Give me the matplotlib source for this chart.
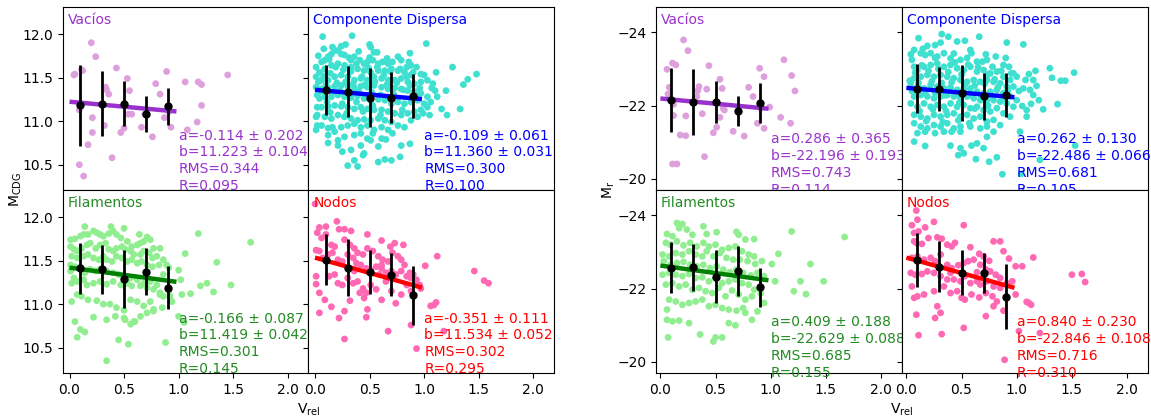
import numpy as np
import matplotlib
matplotlib.use("Agg")
import matplotlib.pyplot as plt

plt.rcParams["font.family"] = ["DejaVu Sans"]
plt.rcParams["font.size"] = 10

# ---------------------------------------------------------------------------
# Environments and styling
# ---------------------------------------------------------------------------
env_names = ["Vacíos", "Componente Dispersa", "Filamentos", "Nodos"]
point_colors = ["plum", "turquoise", "lightgreen", "hotpink"]
line_colors = ["darkorchid", "blue", "green", "red"]
text_colors = ["darkorchid", "blue", "forestgreen", "red"]

bin_centres = [0.1, 0.3, 0.5, 0.7, 0.9]
xticks = [0.0, 0.5, 1.0, 1.5, 2.0]

# ---------------------------------------------------------------------------
# Galaxy samples: (V_rel, M_CDG)
# ---------------------------------------------------------------------------
cdg_vacios = [
    (0.20, 11.90), (0.24, 11.74), (0.04, 11.53), (0.11, 11.59), (0.12, 11.58),
    (0.09, 11.13), (0.21, 11.04), (0.21, 10.87), (0.17, 10.73), (0.09, 10.50),
    (0.13, 10.37), (0.43, 11.61), (0.34, 11.36), (0.33, 11.39), (0.36, 11.31),
    (0.39, 10.58), (0.53, 11.49), (0.55, 11.35), (0.47, 10.87), (0.50, 10.92),
    (0.54, 11.08), (0.57, 11.08), (0.32, 10.95), (0.66, 10.93), (0.69, 11.08),
    (0.76, 10.82), (0.79, 11.43), (0.83, 11.31), (0.89, 11.57), (0.91, 11.11),
    (0.87, 11.04), (0.93, 10.93), (1.06, 11.45), (1.18, 11.45), (1.21, 11.42),
    (1.21, 11.18), (1.17, 10.99), (1.08, 10.90), (1.45, 11.53), (0.05, 11.54),
]

cdg_dispersa = [
    (0.07, 11.97), (0.34, 11.98), (0.16, 11.85), (0.28, 11.88), (0.50, 11.88),
    (0.51, 11.85), (0.54, 11.79), (0.57, 11.79), (0.87, 11.78), (1.02, 11.89),
    (1.26, 11.62), (1.48, 11.54), (1.40, 11.48), (1.36, 11.42), (1.33, 11.14),
    (1.21, 11.07), (1.11, 11.56), (1.07, 11.38), (1.16, 11.14), (1.05, 11.07),
    (0.79, 10.72), (0.87, 10.74), (0.78, 10.59), (0.64, 10.56), (0.70, 10.55),
    (0.58, 10.53), (0.30, 10.49), (0.39, 10.48), (0.25, 10.65), (0.21, 10.72),
    (0.12, 10.75), (0.12, 10.84), (0.01, 10.90), (0.02, 10.95), (0.16, 10.93),
    (0.33, 10.67), (0.42, 10.72), (0.45, 10.63), (0.51, 10.78), (0.61, 10.80),
    (0.65, 10.79), (0.71, 10.86), (0.53, 10.86), (0.01, 11.05), (0.02, 11.16),
    (0.04, 11.26), (0.01, 11.39), (0.01, 11.51), (0.01, 11.62), (0.06, 11.68),
    (0.09, 11.70), (0.12, 11.74), (0.15, 11.77), (0.18, 11.81), (0.21, 11.81),
    (0.24, 11.77), (0.27, 11.76), (0.33, 11.70), (0.36, 11.74), (0.41, 11.70),
    (0.45, 11.66), (0.48, 11.68), (0.53, 11.70), (0.58, 11.66), (0.62, 11.68),
    (0.67, 11.66), (0.71, 11.68), (0.76, 11.74), (0.79, 11.70), (0.84, 11.62),
    (0.88, 11.64), (0.93, 11.62), (0.97, 11.54), (1.00, 11.53), (0.88, 11.53),
    (0.82, 11.56), (0.76, 11.58), (0.70, 11.60), (0.64, 11.58), (0.58, 11.58),
    (0.51, 11.56), (0.45, 11.58), (0.39, 11.60), (0.33, 11.62), (0.27, 11.64),
    (0.21, 11.66), (0.15, 11.64), (0.09, 11.60), (0.04, 11.56), (0.06, 11.47),
    (0.12, 11.47), (0.18, 11.51), (0.24, 11.53), (0.30, 11.51), (0.36, 11.47),
    (0.42, 11.49), (0.48, 11.47), (0.54, 11.51), (0.61, 11.49), (0.67, 11.47),
    (0.73, 11.47), (0.79, 11.49), (0.85, 11.45), (0.91, 11.43), (0.97, 11.45),
    (1.03, 11.47), (1.08, 11.43), (1.10, 11.35), (1.03, 11.28), (0.97, 11.32),
    (0.91, 11.34), (0.85, 11.35), (0.79, 11.37), (0.73, 11.38), (0.67, 11.37),
    (0.61, 11.39), (0.54, 11.41), (0.48, 11.39), (0.42, 11.40), (0.36, 11.38),
    (0.30, 11.40), (0.24, 11.41), (0.18, 11.40), (0.12, 11.38), (0.06, 11.37),
    (0.02, 11.30), (0.09, 11.28), (0.15, 11.28), (0.21, 11.30), (0.27, 11.28),
    (0.33, 11.27), (0.39, 11.29), (0.45, 11.26), (0.51, 11.24), (0.58, 11.25),
    (0.64, 11.24), (0.70, 11.20), (0.76, 11.22), (0.82, 11.20), (0.88, 11.22),
    (0.94, 11.24), (1.00, 11.20), (1.03, 11.16), (0.97, 11.13), (0.91, 11.11),
    (0.85, 11.09), (0.79, 11.07), (0.73, 11.09), (0.67, 11.11), (0.61, 11.13),
    (0.54, 11.13), (0.48, 11.14), (0.42, 11.16), (0.36, 11.14), (0.30, 11.16),
    (0.24, 11.17), (0.18, 11.18), (0.12, 11.17), (0.06, 11.16), (0.02, 11.07),
    (0.09, 11.05), (0.15, 11.03), (0.21, 11.07), (0.27, 11.05), (0.33, 11.03),
    (0.39, 11.01), (0.45, 11.02), (0.51, 11.01), (0.58, 11.03), (0.64, 11.01),
    (0.70, 10.99), (0.76, 10.95), (0.82, 10.93), (0.88, 11.01), (0.94, 11.05),
    (0.06, 10.95), (0.12, 10.92), (0.18, 10.88), (0.24, 10.93), (0.30, 10.95),
    (0.36, 10.97), (0.42, 10.93), (0.48, 10.95), (0.54, 10.90), (0.61, 10.93),
    (0.67, 10.90), (0.21, 10.78), (0.27, 10.82), (0.36, 10.84), (0.42, 10.86),
    (0.48, 10.80), (0.58, 10.71), (0.44, 10.61), (0.36, 10.55),
    (0.03, 11.45), (0.05, 11.34), (0.08, 11.52), (0.10, 11.41), (0.14, 11.55),
    (0.16, 11.33), (0.19, 11.62), (0.20, 11.44), (0.23, 11.35), (0.26, 11.59),
    (0.28, 11.45), (0.31, 11.33), (0.33, 11.57), (0.35, 11.43), (0.38, 11.66),
    (0.40, 11.34), (0.43, 11.51), (0.46, 11.42), (0.49, 11.61), (0.52, 11.33),
    (0.55, 11.45), (0.57, 11.62), (0.60, 11.30), (0.63, 11.53), (0.66, 11.42),
    (0.69, 11.57), (0.72, 11.31), (0.75, 11.44), (0.78, 11.60), (0.81, 11.36),
    (0.84, 11.51), (0.87, 11.41), (0.90, 11.56), (0.93, 11.30), (0.96, 11.38),
    (0.11, 11.22), (0.25, 11.20), (0.38, 11.22), (0.53, 11.18), (0.68, 11.27),
    (0.80, 11.13), (0.14, 11.10), (0.29, 11.09), (0.44, 11.11), (0.60, 11.07),
    (0.03, 11.75), (0.13, 11.71), (0.31, 11.73), (0.50, 11.73), (0.66, 11.72),
    (0.08, 11.83), (0.24, 11.86), (0.40, 11.80), (0.86, 11.68), (1.12, 11.28),
    (1.20, 11.35), (0.99, 11.09), (1.06, 11.22),
]

cdg_filamentos = [
    (0.14, 11.89), (0.38, 11.89), (0.50, 11.87), (0.71, 11.77), (0.64, 11.80),
    (0.01, 11.74), (0.05, 11.75), (0.10, 11.78), (0.13, 11.80), (0.17, 11.80),
    (0.22, 11.84), (0.25, 11.82), (0.28, 11.80), (0.31, 11.78), (0.36, 11.81),
    (0.40, 11.84), (0.43, 11.80), (0.47, 11.76), (0.53, 11.72), (0.57, 11.66),
    (0.62, 11.68), (0.65, 11.70), (0.68, 11.72), (0.74, 11.74), (0.77, 11.64),
    (0.83, 11.64), (0.01, 11.66), (0.04, 11.63), (0.07, 11.61), (0.11, 11.64),
    (0.16, 11.68), (0.19, 11.70), (0.24, 11.64), (0.28, 11.68), (0.33, 11.70),
    (0.36, 11.63), (0.40, 11.61), (0.43, 11.64), (0.48, 11.66), (0.51, 11.63),
    (0.56, 11.61), (0.59, 11.57), (0.65, 11.57), (0.68, 11.61), (0.73, 11.59),
    (0.76, 11.53), (0.80, 11.55), (0.86, 11.51), (0.89, 11.45), (0.02, 11.55),
    (0.07, 11.53), (0.13, 11.55), (0.17, 11.57), (0.22, 11.53), (0.27, 11.51),
    (0.31, 11.55), (0.34, 11.51), (0.39, 11.49), (0.43, 11.55), (0.48, 11.53),
    (0.53, 11.49), (0.57, 11.51), (0.62, 11.47), (0.66, 11.49), (0.71, 11.45),
    (0.76, 11.43), (0.82, 11.45), (0.86, 11.34), (0.91, 11.42), (1.00, 11.39),
    (1.02, 11.28), (1.06, 11.58), (1.18, 11.81), (1.35, 11.48), (1.48, 11.22),
    (1.66, 11.71), (1.20, 11.21), (1.26, 11.24), (1.32, 11.14), (1.11, 11.12),
    (1.03, 11.11), (0.94, 11.03), (0.83, 11.11), (0.80, 11.22), (0.74, 11.26),
    (0.68, 11.24), (0.62, 11.28), (0.56, 11.30), (0.50, 11.32), (0.45, 11.34),
    (0.40, 11.36), (0.34, 11.38), (0.28, 11.40), (0.24, 11.38), (0.19, 11.40),
    (0.14, 11.36), (0.10, 11.42), (0.05, 11.43), (0.01, 11.45), (0.01, 11.38),
    (0.04, 11.30), (0.02, 11.24), (0.07, 11.26), (0.13, 11.28), (0.16, 11.22),
    (0.22, 11.24), (0.28, 11.26), (0.34, 11.23), (0.40, 11.26), (0.47, 11.22),
    (0.53, 11.24), (0.57, 11.21), (0.65, 11.21), (0.71, 11.19), (0.77, 11.17),
    (0.83, 11.13), (0.86, 11.09), (0.92, 11.09), (0.91, 11.15), (0.02, 11.03),
    (0.07, 11.11), (0.11, 11.09), (0.17, 11.05), (0.25, 11.04), (0.31, 11.00),
    (0.37, 11.00), (0.43, 10.96), (0.50, 10.93), (0.56, 11.05), (0.62, 11.03),
    (0.68, 10.98), (0.74, 11.03), (0.77, 10.94), (0.85, 10.96), (0.05, 10.80),
    (0.10, 10.71), (0.14, 10.68), (0.07, 10.62), (0.22, 10.85), (0.34, 10.82),
    (0.42, 10.86), (0.50, 10.84), (0.59, 10.80), (0.60, 10.80), (0.56, 10.77),
    (0.65, 10.86), (0.71, 10.90), (0.77, 10.92), (0.45, 10.59), (0.54, 10.54),
    (0.88, 10.56), (0.34, 10.35), (0.51, 10.82), (1.00, 10.86), (1.05, 10.79),
]

cdg_nodos = [
    (0.00, 12.15), (0.04, 11.88), (0.10, 11.89), (0.02, 11.82), (0.06, 11.76),
    (0.10, 11.80), (0.15, 11.68), (0.18, 11.66), (0.20, 11.95), (0.22, 11.86),
    (0.27, 11.86), (0.33, 11.84), (0.48, 11.80), (0.61, 11.73), (0.69, 11.66),
    (0.73, 11.70), (0.81, 11.68), (0.27, 11.74), (0.32, 11.68), (0.36, 11.64),
    (0.39, 11.59), (0.44, 11.57), (0.48, 11.64), (0.53, 11.61), (0.58, 11.55),
    (0.62, 11.51), (0.67, 11.49), (0.71, 11.59), (0.76, 11.55), (0.79, 11.51),
    (0.82, 11.45), (0.87, 11.36), (0.90, 11.34), (0.93, 11.28), (0.96, 11.22),
    (1.01, 11.44), (1.12, 11.55), (1.46, 11.38), (1.55, 11.27), (1.59, 11.24),
    (0.01, 11.62), (0.04, 11.61), (0.07, 11.53), (0.12, 11.57), (0.16, 11.59),
    (0.21, 11.51), (0.25, 11.49), (0.30, 11.57), (0.35, 11.53), (0.38, 11.47),
    (0.42, 11.45), (0.47, 11.41), (0.51, 11.39), (0.56, 11.43), (0.61, 11.41),
    (0.65, 11.36), (0.70, 11.38), (0.74, 11.34), (0.79, 11.38), (0.84, 11.32),
    (0.88, 11.30), (0.01, 11.32), (0.01, 11.23), (0.04, 11.13), (0.09, 11.05),
    (0.13, 11.32), (0.18, 11.34), (0.21, 11.24), (0.25, 11.22), (0.30, 11.30),
    (0.35, 11.24), (0.39, 11.26), (0.44, 11.18), (0.47, 11.13), (0.51, 11.22),
    (0.56, 11.17), (0.61, 11.05), (0.65, 11.26), (0.70, 11.15), (0.74, 11.01),
    (0.79, 11.11), (0.84, 11.22), (0.88, 11.15), (0.93, 11.22), (0.97, 11.18),
    (1.06, 10.98), (1.09, 10.99), (1.11, 11.02), (0.88, 10.76), (0.93, 10.49),
    (0.04, 10.90), (0.15, 10.97), (0.22, 10.84), (0.27, 10.92), (0.32, 11.04),
    (0.41, 11.13), (0.45, 11.07), (0.48, 10.94), (0.47, 10.85), (0.67, 10.69),
    (0.27, 10.60), (1.18, 10.69), (0.59, 11.34), (0.36, 11.38), (0.61, 11.45),
]

# ---------------------------------------------------------------------------
# Galaxy samples: (V_rel, M_r)
# ---------------------------------------------------------------------------
mr_vacios = [
    (0.21, -23.79), (0.25, -23.50), (0.06, -22.99), (0.11, -23.16), (0.14, -23.11),
    (0.08, -22.50), (0.07, -22.32), (0.12, -22.04), (0.12, -21.73), (0.23, -21.72),
    (0.18, -21.20), (0.23, -21.18), (0.11, -20.41), (0.15, -20.41), (0.40, -20.61),
    (0.44, -23.09), (0.35, -22.52), (0.34, -22.41), (0.33, -22.25), (0.38, -21.78),
    (0.42, -22.45), (0.54, -22.72), (0.56, -22.47), (0.54, -21.68), (0.48, -21.26),
    (0.51, -21.41), (0.57, -21.93), (0.58, -21.88), (0.66, -21.30), (0.76, -21.17),
    (0.80, -22.50), (0.84, -22.25), (0.90, -23.02), (0.94, -22.79), (0.88, -21.52),
    (0.94, -21.38), (1.12, -23.25), (1.19, -22.82), (1.22, -22.40), (1.09, -21.68),
    (1.18, -21.52), (0.99, -21.96), (0.91, -21.93),
]

mr_dispersa = [
    (0.11, -23.84), (0.32, -23.95), (0.38, -23.88), (0.46, -23.75), (0.53, -23.77),
    (0.66, -23.88), (0.91, -23.72), (1.06, -23.67), (0.19, -23.63), (0.26, -23.65),
    (0.31, -23.72), (0.58, -23.52), (0.59, -23.43), (0.81, -23.34), (0.73, -23.25),
    (0.07, -23.52), (0.13, -23.43), (0.17, -23.38), (0.22, -23.43), (0.28, -23.34),
    (0.34, -23.43), (0.40, -23.29), (0.49, -23.25), (0.64, -23.20), (0.69, -23.20),
    (0.78, -23.06), (0.88, -23.11), (0.93, -23.06), (0.97, -22.88), (1.00, -22.79),
    (1.08, -22.70), (1.11, -22.86), (1.15, -22.70), (1.18, -22.54), (1.30, -23.02),
    (1.32, -22.76), (1.40, -22.68), (1.44, -22.68), (1.52, -22.90), (1.37, -22.04),
    (1.24, -21.90), (1.20, -22.15), (1.15, -22.29), (1.12, -22.43), (1.06, -22.47),
    (1.09, -21.88), (1.09, -21.70), (1.05, -21.99), (0.05, -23.25), (0.07, -23.06),
    (0.10, -22.97), (0.16, -23.06), (0.22, -23.11), (0.28, -23.15), (0.34, -23.06),
    (0.40, -23.11), (0.46, -23.02), (0.52, -22.97), (0.58, -23.06), (0.64, -22.93),
    (0.70, -22.97), (0.76, -22.88), (0.82, -22.93), (0.88, -22.79), (0.94, -22.70),
    (0.97, -22.52), (0.91, -22.52), (0.85, -22.61), (0.79, -22.65), (0.73, -22.70),
    (0.67, -22.65), (0.61, -22.70), (0.55, -22.65), (0.49, -22.70), (0.43, -22.75),
    (0.37, -22.79), (0.31, -22.84), (0.25, -22.79), (0.19, -22.84), (0.13, -22.79),
    (0.07, -22.75), (0.04, -22.61), (0.10, -22.52), (0.16, -22.47), (0.22, -22.56),
    (0.28, -22.52), (0.34, -22.47), (0.40, -22.50), (0.46, -22.43), (0.52, -22.45),
    (0.58, -22.47), (0.64, -22.38), (0.70, -22.34), (0.76, -22.38), (0.82, -22.43),
    (0.88, -22.34), (0.94, -22.25), (1.00, -22.15), (0.97, -21.97), (0.91, -22.06),
    (0.85, -22.11), (0.79, -22.15), (0.73, -22.15), (0.67, -22.15), (0.61, -22.20),
    (0.55, -22.25), (0.49, -22.20), (0.43, -22.25), (0.37, -22.29), (0.31, -22.25),
    (0.25, -22.20), (0.19, -22.25), (0.13, -22.29), (0.07, -22.25), (0.04, -22.06),
    (0.10, -21.97), (0.16, -22.06), (0.22, -21.97), (0.28, -22.02), (0.34, -21.97),
    (0.40, -22.06), (0.46, -21.97), (0.52, -22.02), (0.58, -21.93), (0.64, -21.97),
    (0.70, -21.88), (0.76, -21.84), (0.82, -21.93), (0.88, -21.79), (0.94, -21.70),
    (0.07, -21.75), (0.13, -21.70), (0.19, -21.65), (0.25, -21.75), (0.31, -21.70),
    (0.37, -21.75), (0.43, -21.79), (0.49, -21.70), (0.55, -21.75), (0.61, -21.65),
    (0.67, -21.70), (0.73, -21.56), (0.79, -21.61), (0.85, -21.47), (0.07, -21.52),
    (0.13, -21.43), (0.19, -21.38), (0.25, -21.47), (0.31, -21.43), (0.37, -21.52),
    (0.43, -21.38), (0.49, -21.43), (0.58, -21.43), (0.67, -21.38), (0.73, -21.43),
    (0.10, -21.25), (0.17, -21.29), (0.26, -21.25), (0.34, -21.29), (0.41, -21.29),
    (0.49, -21.29), (0.79, -21.29), (1.03, -21.29), (0.07, -21.02), (0.17, -20.90),
    (0.40, -20.91), (0.49, -20.84), (0.52, -20.70), (0.47, -20.65), (0.59, -20.91),
    (0.64, -20.97), (0.70, -20.84), (0.63, -20.54), (0.75, -20.47), (0.82, -20.59),
    (0.87, -20.13), (1.04, -20.14), (1.53, -20.91), (1.21, -20.52), (0.73, -21.15),
    (0.03, -22.68), (0.05, -22.40), (0.08, -22.90), (0.11, -22.62), (0.14, -23.10),
    (0.17, -22.35), (0.20, -22.95), (0.23, -22.66), (0.26, -22.35), (0.29, -23.00),
    (0.32, -22.62), (0.35, -22.28), (0.38, -22.92), (0.41, -22.64), (0.44, -23.18),
    (0.47, -22.32), (0.50, -22.85), (0.53, -22.58), (0.56, -23.12), (0.59, -22.30),
    (0.62, -22.55), (0.65, -23.05), (0.68, -22.25), (0.71, -22.60), (0.74, -22.85),
    (0.77, -22.28), (0.80, -22.72), (0.83, -22.50), (0.86, -22.95), (0.89, -22.20),
    (0.92, -22.42), (0.95, -22.88), (0.12, -21.85), (0.24, -21.90), (0.36, -21.85),
    (0.48, -22.08), (0.62, -21.92), (0.74, -22.00), (0.18, -21.58), (0.33, -21.55),
    (0.47, -21.60), (0.57, -21.52), (0.04, -23.40), (0.15, -23.55), (0.26, -23.30),
    (0.43, -23.42), (0.55, -23.30), (0.72, -23.40), (0.90, -23.30), (1.02, -22.40),
    (1.13, -22.05), (1.17, -22.95),
]

mr_filamentos = [
    (0.15, -23.79), (0.20, -23.76), (0.06, -23.49), (0.11, -23.43), (0.17, -23.65),
    (0.24, -23.61), (0.29, -23.47), (0.39, -23.70), (0.42, -23.49), (0.51, -23.54),
    (0.69, -23.55), (0.71, -23.47), (0.77, -23.34), (0.85, -23.35), (1.19, -23.56),
    (1.67, -23.41), (0.05, -23.25), (0.09, -23.20), (0.15, -23.29), (0.21, -23.18),
    (0.27, -23.25), (0.33, -23.15), (0.39, -23.25), (0.44, -23.15), (0.50, -23.20),
    (0.56, -23.06), (0.62, -23.11), (0.68, -23.15), (0.74, -23.02), (0.80, -22.93),
    (0.85, -22.88), (0.02, -22.93), (0.08, -22.88), (0.14, -22.97), (0.20, -22.93),
    (0.26, -23.02), (0.32, -22.93), (0.38, -22.88), (0.42, -23.02), (0.48, -22.88),
    (0.54, -22.97), (0.60, -22.84), (0.66, -22.79), (0.72, -22.79), (0.79, -22.75),
    (0.86, -22.67), (0.92, -22.75), (1.01, -22.67), (1.07, -22.95), (1.36, -22.67),
    (0.03, -22.75), (0.09, -22.65), (0.15, -22.70), (0.21, -22.73), (0.27, -22.65),
    (0.33, -22.61), (0.39, -22.65), (0.45, -22.56), (0.51, -22.61), (0.57, -22.52),
    (0.63, -22.45), (0.69, -22.52), (0.75, -22.43), (0.82, -22.36), (0.88, -22.43),
    (0.94, -22.34), (1.04, -22.20), (1.27, -22.20), (1.48, -22.20), (1.21, -21.93),
    (1.32, -21.85), (0.02, -22.38), (0.08, -22.43), (0.14, -22.38), (0.20, -22.34),
    (0.26, -22.40), (0.32, -22.29), (0.38, -22.31), (0.44, -22.20), (0.50, -22.27),
    (0.56, -22.15), (0.62, -22.20), (0.68, -22.25), (0.74, -22.15), (0.80, -22.11),
    (0.85, -21.97), (0.91, -21.88), (0.94, -21.61), (0.05, -22.11), (0.11, -22.15),
    (0.17, -22.06), (0.23, -22.11), (0.29, -21.97), (0.35, -22.02), (0.41, -21.93),
    (0.47, -21.88), (0.53, -22.02), (0.59, -21.79), (0.65, -21.95), (0.71, -21.84),
    (0.77, -21.70), (0.83, -21.79), (0.08, -21.70), (0.14, -21.65), (0.20, -21.56),
    (0.26, -21.61), (0.32, -21.65), (0.38, -21.70), (0.44, -21.52), (0.50, -21.56),
    (0.56, -21.47), (0.62, -21.43), (0.69, -21.40), (0.75, -21.47), (0.88, -21.38),
    (0.06, -21.43), (0.06, -21.15), (0.11, -21.11), (0.17, -21.13), (0.26, -21.06),
    (0.36, -20.75), (0.50, -20.67), (0.56, -20.67), (0.62, -21.06), (0.68, -21.00),
    (0.77, -21.34), (0.83, -21.15), (0.07, -20.67), (0.48, -20.56),
]

mr_nodos = [
    (0.09, -24.13), (0.10, -23.88), (0.05, -23.73), (0.07, -23.52), (0.11, -23.56),
    (0.17, -23.67), (0.25, -23.82), (0.07, -23.29), (0.09, -23.25), (0.14, -23.22),
    (0.20, -23.38), (0.28, -23.40), (0.32, -23.36), (0.37, -23.20), (0.41, -23.15),
    (0.44, -23.25), (0.52, -23.73), (0.58, -23.13), (0.66, -22.95), (0.70, -22.88),
    (0.75, -22.76), (0.79, -23.29), (0.85, -23.29), (0.88, -23.02), (0.93, -22.82),
    (0.99, -22.61), (1.05, -22.61), (1.15, -22.85), (1.50, -22.38), (1.59, -22.40),
    (1.62, -22.18), (0.05, -22.84), (0.10, -22.88), (0.16, -22.79), (0.22, -22.84),
    (0.26, -22.75), (0.31, -22.93), (0.37, -22.65), (0.41, -22.56), (0.47, -22.64),
    (0.52, -22.70), (0.56, -22.75), (0.61, -22.79), (0.67, -22.65), (0.72, -22.52),
    (0.76, -22.47), (0.81, -22.38), (0.85, -22.29), (0.91, -22.15), (0.96, -22.20),
    (0.99, -21.84), (1.09, -21.64), (1.11, -21.61), (1.13, -21.56), (0.04, -22.43),
    (0.08, -22.38), (0.14, -22.40), (0.19, -22.47), (0.25, -22.43), (0.31, -22.34),
    (0.37, -22.25), (0.43, -22.25), (0.49, -22.20), (0.53, -22.34), (0.58, -22.15),
    (0.64, -22.20), (0.67, -22.11), (0.73, -22.20), (0.79, -22.06), (0.85, -22.02),
    (0.05, -22.06), (0.10, -21.79), (0.16, -21.84), (0.25, -21.93), (0.34, -22.06),
    (0.40, -21.88), (0.46, -21.93), (0.50, -21.75), (0.53, -21.70), (0.59, -21.84),
    (0.66, -21.76), (0.72, -21.88), (0.78, -21.79), (0.82, -21.65), (0.88, -21.40),
    (0.07, -21.75), (0.28, -21.52), (0.26, -21.20), (0.31, -21.34), (0.09, -21.29),
    (0.11, -20.73), (0.32, -20.76), (0.52, -20.93), (0.72, -21.25), (0.79, -21.52),
    (0.89, -20.06), (1.02, -20.84), (1.21, -20.79), (0.40, -22.43), (0.64, -22.45),
]

# ---------------------------------------------------------------------------
# Binned means and their dispersions at bin_centres
# ---------------------------------------------------------------------------
cdg_bin_mean = [
    [11.18, 11.20, 11.20, 11.08, 11.17],
    [11.36, 11.34, 11.27, 11.27, 11.29],
    [11.41, 11.40, 11.29, 11.37, 11.19],
    [11.51, 11.42, 11.37, 11.34, 11.10],
]
cdg_bin_err = [
    [0.46, 0.37, 0.26, 0.21, 0.21],
    [0.29, 0.29, 0.34, 0.29, 0.25],
    [0.29, 0.28, 0.33, 0.27, 0.25],
    [0.29, 0.33, 0.25, 0.25, 0.34],
]
mr_bin_mean = [
    [-22.16, -22.10, -22.10, -21.86, -22.07],
    [-22.46, -22.46, -22.34, -22.26, -22.29],
    [-22.57, -22.58, -22.33, -22.47, -22.04],
    [-22.78, -22.60, -22.44, -22.43, -21.78],
]
mr_bin_err = [
    [0.88, 0.90, 0.57, 0.41, 0.55],
    [0.67, 0.60, 0.77, 0.64, 0.59],
    [0.70, 0.64, 0.73, 0.68, 0.53],
    [0.74, 0.70, 0.61, 0.55, 0.88],
]

# ---------------------------------------------------------------------------
# Linear fits y = a * V_rel + b with their statistics
# ---------------------------------------------------------------------------
cdg_a = [-0.114, -0.109, -0.166, -0.351]
cdg_a_err = [0.202, 0.061, 0.087, 0.111]
cdg_b = [11.223, 11.360, 11.419, 11.534]
cdg_b_err = [0.104, 0.031, 0.042, 0.052]
cdg_rms = [0.344, 0.300, 0.301, 0.302]
cdg_r = [0.095, 0.100, 0.145, 0.295]

mr_a = [0.286, 0.262, 0.409, 0.840]
mr_a_err = [0.365, 0.130, 0.188, 0.230]
mr_b = [-22.196, -22.486, -22.629, -22.846]
mr_b_err = [0.193, 0.066, 0.088, 0.108]
mr_rms = [0.743, 0.681, 0.685, 0.716]
mr_r = [0.114, 0.105, 0.155, 0.310]

fit_range = [0.0, 0.98]

cdg_samples = [cdg_vacios, cdg_dispersa, cdg_filamentos, cdg_nodos]
mr_samples = [mr_vacios, mr_dispersa, mr_filamentos, mr_nodos]


def draw_block(fig, left, right, samples, means, errs, a, a_err, b, b_err,
               rms, rr, xlim, ylim, yticks, text_y, ylabel, ylabel_x):
    gs = fig.add_gridspec(2, 2, left=left, right=right, top=0.9833,
                          bottom=0.1098, hspace=0, wspace=0)
    axes = gs.subplots(sharex=True, sharey=True)
    for k, ax in enumerate(axes.flat):
        pts = np.array(samples[k])
        ax.scatter(pts[:, 0], pts[:, 1], s=24, color=point_colors[k],
                   edgecolors="none", zorder=1)
        xf = np.array(fit_range)
        ax.plot(xf, a[k] * xf + b[k], color=line_colors[k], lw=3.2,
                solid_capstyle="butt", zorder=2)
        ax.errorbar(bin_centres, means[k], yerr=errs[k], fmt="o", color="black",
                    ms=5, elinewidth=2, capsize=0, zorder=3)
        ax.text(0.02, 0.965, env_names[k], transform=ax.transAxes,
                color=text_colors[k], va="top", ha="left", fontsize=10)
        label = (f"a={a[k]:.3f} \u00b1 {a_err[k]:.3f}\n"
                 f"b={b[k]:.3f} \u00b1 {b_err[k]:.3f}\n"
                 f"RMS={rms[k]:.3f}\nR={rr[k]:.3f}")
        ax.text(1.0, text_y, label, transform=ax.get_xaxis_transform(),
                color=text_colors[k], va="top", ha="left", fontsize=10,
                linespacing=1.25, zorder=4)
    ax0 = axes[0, 0]
    ax0.set_xlim(*xlim)
    ax0.set_ylim(*ylim)
    ax0.set_xticks(xticks)
    ax0.set_yticks(yticks)
    for ax in axes.flat:
        ax.tick_params(labelsize=10)
    mid = 0.5 * (left + right)
    fig.text(mid, 0.022, r"V$_{\rm rel}$", ha="center", va="center", fontsize=10)
    fig.text(ylabel_x, 0.547, ylabel, ha="center", va="center",
             rotation=90, fontsize=10)
    return axes


fig = plt.figure(figsize=(11.51, 4.19), dpi=100)

draw_block(fig, 0.0547, 0.4813, cdg_samples, cdg_bin_mean, cdg_bin_err,
           cdg_a, cdg_a_err, cdg_b, cdg_b_err, cdg_rms, cdg_r,
           xlim=(-0.06, 2.19), ylim=(10.21, 12.31),
           yticks=[10.5, 11.0, 11.5, 12.0], text_y=0.335,
           ylabel=r"M$_{\rm CDG}$", ylabel_x=0.014)

draw_block(fig, 0.5699, 0.9974, mr_samples, mr_bin_mean, mr_bin_err,
           mr_a, mr_a_err, mr_b, mr_b_err, mr_rms, mr_r,
           xlim=(-0.04, 2.19), ylim=(-19.70, -24.69),
           yticks=[-20, -22, -24], text_y=0.315,
           ylabel=r"M$_{\rm r}$", ylabel_x=0.529)

fig.savefig("out.png", dpi=100)
